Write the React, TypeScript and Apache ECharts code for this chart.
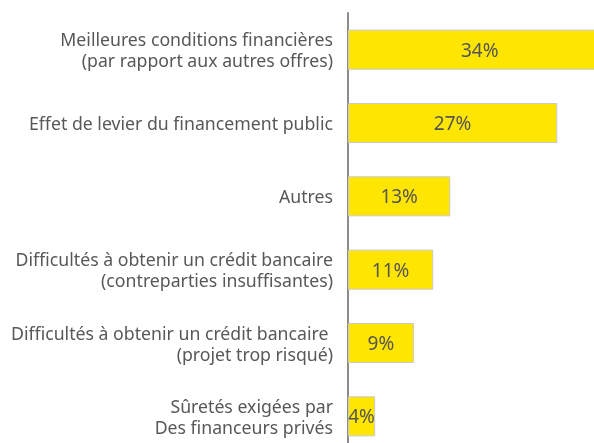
import React, { useEffect, useRef } from "react";
import * as echarts from "echarts";

const categories = [
  "Meilleures conditions financières\n(par rapport aux autres offres)",
  "Effet de levier du financement public",
  "Autres",
  "Difficultés à obtenir un crédit bancaire\n(contreparties insuffisantes)",
  "Difficultés à obtenir un crédit bancaire \n(projet trop risqué)",
  "Sûretés exigées par\nDes financeurs privés",
];
const values = [34, 27, 13.2, 11, 8.5, 3.5];

export default function App() {
  const ref = useRef<HTMLDivElement>(null);
  useEffect(() => {
    const chart = echarts.init(ref.current!, null, { renderer: "svg" });
    chart.setOption({
      animation: false,
      grid: { left: 348, top: 13, width: 263.5, height: 440 },
      xAxis: { type: "value", min: 0, max: 34, show: false },
      yAxis: {
        type: "category",
        data: categories,
        inverse: true,
        axisLine: { lineStyle: { color: "#8c8c8c", width: 2 } },
        axisTick: { show: false },
        axisLabel: {
          color: "#585858",
          fontSize: 17.7,
          fontFamily: "Noto Sans",
          lineHeight: 21,
          margin: 15,
        },
      },
      series: [
        {
          type: "bar",
          data: values,
          barWidth: 40,
          itemStyle: { color: "#FFE600", borderColor: "#c9c9c9", borderWidth: 1 },
          label: {
            show: true,
            position: "inside",
            formatter: (p: any) => Math.round(p.value) + "%",
            color: "#555555",
            fontSize: 19,
            fontFamily: "Noto Sans",
          },
        },
      ],
    });
    return () => chart.dispose();
  }, []);
  return (
    <div
      ref={ref}
      style={{ position: "fixed", left: 0, top: 0, width: 640, height: 470 }}
    />
  );
}
